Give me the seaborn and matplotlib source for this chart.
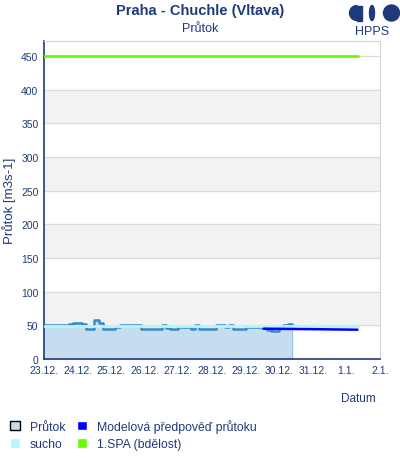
import numpy as np
import pandas as pd
import matplotlib.pyplot as plt
import seaborn as sns
from matplotlib.patches import Patch, Circle, Ellipse, Wedge, Rectangle

# observed flow, every 3 hours from 23.12. 00:00
flow = [51, 51, 51, 51, 51, 51, 52, 53, 53, 52, 45, 44, 58, 53, 45, 45,
        45, 48, 50, 51, 51, 51, 50, 44, 45, 45, 45, 45, 50, 46, 45, 45,
        48, 48, 48, 45, 50, 45, 45, 45, 45, 51, 51, 48, 51, 45, 45, 45,
        48, 48, 48, 48, 46, 43, 41, 42, 46, 51, 52, 51]
flow_times = pd.date_range("2023-12-23 00:00", periods=len(flow), freq="3h")

# model forecast (steps)
fc_times = pd.to_datetime(["2023-12-29 13:00", "2023-12-31 00:00",
                           "2023-12-31 00:00", "2024-01-01 08:00"])
fc_vals = [45, 45, 43.5, 43.5]

# thresholds
thr_times = pd.to_datetime(["2023-12-23 00:00", "2024-01-01 08:00"])
spa1 = [450, 450]
sucho = [48.5, 48.5]

day_ticks = pd.date_range("2023-12-23", "2024-01-02", freq="D")
day_labels = [f"{d.day}.{d.month}." for d in day_ticks]

navy = "#1f3a7a"
sns.set_style("white")
plt.rcParams["font.family"] = ["Liberation Sans", "DejaVu Sans"]

fig = plt.figure(figsize=(4, 4.6), dpi=100)
ax = fig.add_axes([0.11, 1 - 360 / 460, 0.84, (360 - 42) / 460])

ymax = 472
for lo in (50, 150, 250, 350):
    ax.axhspan(lo, lo + 50, color="#f2f2f2", zorder=0)
for g in range(50, 451, 50):
    ax.axhline(g, color="#dcdcdc", lw=0.9, zorder=0.5)

df = pd.DataFrame({"t": flow_times, "q": flow})
ax.fill_between(df["t"], 0, df["q"], step="post", color="#c6dcef", zorder=1)
ax.axvline(df["t"].iloc[-1], ymax=df["q"].iloc[-1] / ymax, color="#9cc3e6", lw=0.8, zorder=1)
sns.lineplot(data=df, x="t", y="q", ax=ax, color="#3a88c8", lw=1.8,
             drawstyle="steps-post", zorder=2)
sns.lineplot(x=thr_times, y=sucho, ax=ax, color="#b0fafa", lw=2.0, zorder=3)
sns.lineplot(x=fc_times, y=fc_vals, ax=ax, color="#0000ff", lw=1.8, zorder=4)
sns.lineplot(x=thr_times, y=spa1, ax=ax, color="#66ff00", lw=2.0, zorder=4)

ax.set_xlim(day_ticks[0], day_ticks[-1])
ax.set_ylim(0, ymax)
ax.set_yticks(range(0, 451, 50))
ax.set_xticks(day_ticks)
ax.set_xticklabels(day_labels)
ax.tick_params(axis="both", labelsize=7.5, colors=navy, length=0, pad=4)
ax.set_xlabel("")
ax.set_ylabel("Průtok [m3s-1]", color=navy, fontsize=9.5, labelpad=4)
for s in ("top", "right"):
    ax.spines[s].set_color("#d4d4d4")
for s in ("left", "bottom"):
    ax.spines[s].set_color(navy)
    ax.spines[s].set_linewidth(1.2)

fig.text(0.5, 1 - 11 / 460, "Praha - Chuchle (Vltava)", ha="center", va="center",
         fontsize=10.5, fontweight="bold", color=navy)
fig.text(0.5, 1 - 29 / 460, "Průtok", ha="center", va="center", fontsize=9, color=navy)
fig.text(358 / 400, 1 - 399 / 460, "Datum", ha="center", va="center", fontsize=8.5, color=navy)

# HPPS logo
lax = fig.add_axes([0, 0, 1, 1], facecolor="none")
lax.set_xlim(0, 400)
lax.set_ylim(460, 0)
lax.axis("off")
lax.add_patch(Wedge((357, 14), 7.5, 90, 270, color=navy))
lax.add_patch(Rectangle((356.5, 6.5), 5.5, 15, color=navy))
lax.add_patch(Ellipse((372, 14), 5, 15, color=navy))
lax.add_patch(Circle((391.5, 14), 8, color=navy))
lax.text(372, 32, "HPPS", ha="center", va="center", fontsize=9, color=navy)

handles = [Patch(facecolor="#c6dcef", edgecolor="black", lw=1, label="Průtok"),
           Patch(facecolor="#b0fafa", label="sucho"),
           Patch(facecolor="#0000ff", label="Modelová předpověď průtoku"),
           Patch(facecolor="#66ff00", label="1.SPA (bdělost)")]
fig.legend(handles=handles, loc="upper left", bbox_to_anchor=(-0.002, 1 - 409 / 460),
           ncol=2, frameon=False, fontsize=8.8, labelcolor=navy, handlelength=0.8,
           handleheight=0.8, handletextpad=0.8, columnspacing=1.0, labelspacing=0.45)

fig.savefig("out.png", dpi=100)
